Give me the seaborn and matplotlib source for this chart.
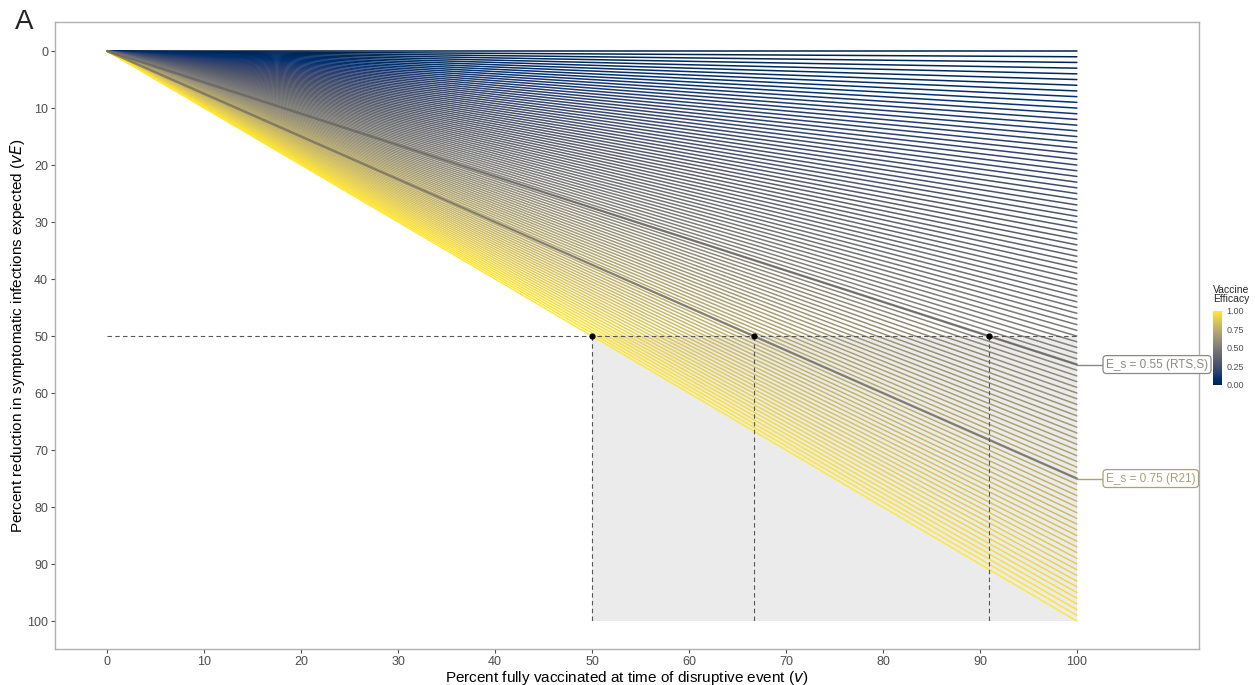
import numpy as np
import pandas as pd
import matplotlib
matplotlib.use("Agg")
import matplotlib.pyplot as plt
import seaborn as sns

# ---- data ----
efficacy = [round(i / 100, 2) for i in range(101)]        # vaccine efficacy values (one line each)
highlight_eff = [0.55, 0.75]
highlight_lab = ["E_s = 0.55 (RTS,S)", "E_s = 0.75 (R21)"]
label_y = [55.0, 75.0]
target_reduction = 50
target_v = [50.0, 66.7, 90.9]
x_ticks = [0, 10, 20, 30, 40, 50, 60, 70, 80, 90, 100]
y_ticks = [0, 10, 20, 30, 40, 50, 60, 70, 80, 90, 100]
cb_ticks = [0.00, 0.25, 0.50, 0.75, 1.00]

rows = []
for e in efficacy:
    rows.append({"E": e, "v": 0, "vE": 0})
    rows.append({"E": e, "v": 100, "vE": 100 * e})
df = pd.DataFrame(rows)

sns.set_theme(style="white")
plt.rcParams['font.family'] = ['Liberation Sans', 'DejaVu Sans']

fig = plt.figure(figsize=(12.55, 6.85), dpi=100)
ax = fig.add_axes([0.0438, 0.0526, 0.9116, 0.9153])

cmap = plt.get_cmap("cividis")
norm = matplotlib.colors.Normalize(0, 1)

# shaded region
ax.fill_between([50, 100], [50, 50], [100, 100], color="#ebebeb", zorder=0, linewidth=0)

sns.lineplot(data=df, x="v", y="vE", hue="E", palette="cividis", hue_norm=(0, 1),
             units="E", estimator=None, legend=False, linewidth=1.1, ax=ax, zorder=2)

# highlighted lines
for e, lab, ly in zip(highlight_eff, highlight_lab, label_y):
    ax.plot([0, 100], [0, 100 * e], color="#5a5a5a", alpha=0.6, linewidth=1.8, zorder=3)
    c = cmap(norm(e))
    lc = tuple(0.6 * np.array(c[:3]) + 0.4 * np.array([0.55, 0.55, 0.55]))
    ax.plot([100, 102.6], [100 * e, ly], color=lc, linewidth=1.0, zorder=3, clip_on=False)
    ax.text(103, ly, lab, fontsize=8.5, color=lc, va="center", ha="left", zorder=4,
            bbox=dict(boxstyle="round,pad=0.25,rounding_size=0.3", fc="white", ec=lc, lw=0.9))

# dashed reference lines
ax.plot([0, 100], [target_reduction, target_reduction], color="#555555", ls=(0, (4, 3)), lw=0.8, zorder=4)
for xv in target_v:
    ax.plot([xv, xv], [target_reduction, 100], color="#555555", ls=(0, (4, 3)), lw=0.8, zorder=4)
ax.scatter(target_v, [target_reduction] * len(target_v), color="black", s=12, zorder=5)

ax.set_xlim(-5.4, 112.6)
ax.set_ylim(104.9, -5.1)
ax.set_xticks(x_ticks)
ax.set_yticks(y_ticks)
ax.tick_params(axis="both", colors="#4d4d4d", labelsize=9, length=3, width=0.8,
               bottom=True, left=True, pad=2)
for sp in ax.spines.values():
    sp.set_color("#b0b0b0")
    sp.set_linewidth(1.0)
ax.set_xlabel("Percent fully vaccinated at time of disruptive event ($v$)", fontsize=11, color="black", labelpad=1)
ax.set_ylabel("Percent reduction in symptomatic infections expected ($vE$)", fontsize=11, color="black", labelpad=0)
ax.grid(False)

# colorbar
cax = fig.add_axes([0.9665, 0.438, 0.0072, 0.108])
sm = matplotlib.cm.ScalarMappable(norm=norm, cmap=cmap)
cb = fig.colorbar(sm, cax=cax, ticks=cb_ticks)
cb.ax.set_yticklabels([f"{t:.2f}" for t in cb_ticks])
cb.ax.tick_params(labelsize=6.5, colors="white", labelcolor="#4d4d4d", length=2, width=0.5, pad=1)
cb.outline.set_visible(False)
fig.text(0.9665, 0.556, "Vaccine\nEfficacy", fontsize=7.5, ha="left", va="bottom", linespacing=0.95)

fig.text(0.012, 0.957, "A", fontsize=20, ha="left", va="baseline")

fig.savefig("out.png", dpi=100)
